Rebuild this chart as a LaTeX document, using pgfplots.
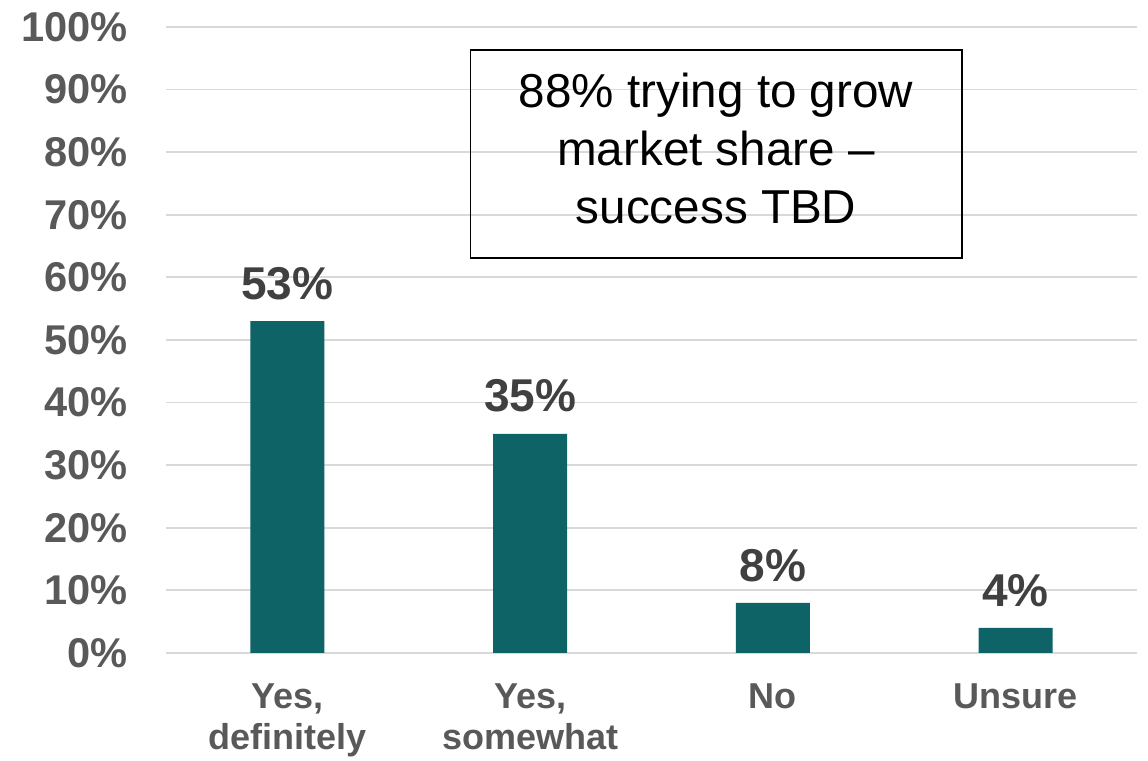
\documentclass[border=0pt]{standalone}
\usepackage{pgfplots}
\pgfplotsset{compat=1.18}
\usepackage{fontspec}
\setmainfont{Liberation Sans}
\definecolor{barc}{HTML}{0D6366}
\definecolor{tickc}{HTML}{595959}
\definecolor{lblc}{HTML}{404040}
\definecolor{gridc}{HTML}{D9D9D9}
\begin{document}
\begin{tikzpicture}
\path[use as bounding box] (0,0) rectangle (574pt,380.5pt);
\begin{axis}[
  at={(83pt,54pt)}, anchor=south west,
  scale only axis, width=485.5pt, height=313pt,
  ybar, bar width=37pt,
  xmin=-0.5, xmax=3.5, ymin=0, ymax=100,
  axis line style={draw=none},
  major tick length=0pt,
  xtick=data,
  xticklabels={{Yes,\\definitely},{Yes,\\somewhat},No,Unsure},
  xticklabel style={anchor=north, inner sep=0pt, yshift=-15pt, align=center,
    font=\fontsize{18}{20.5}\selectfont\bfseries, text=tickc},
  ytick={0,10,...,100},
  yticklabels={0\%,10\%,20\%,30\%,40\%,50\%,60\%,70\%,80\%,90\%,100\%},
  yticklabel style={anchor=east, inner sep=0pt, xshift=-19pt,
    font=\fontsize{20.8}{24}\selectfont\bfseries, text=tickc},
  ymajorgrids, grid style={gridc, line width=0.9pt},
  /pgf/number format/assume math mode=true,
  nodes near coords={\pgfmathprintnumber{\pgfplotspointmeta}\%},
  nodes near coords style={anchor=south, inner sep=0pt, yshift=10.5pt,
    font=\fontsize{23}{26}\selectfont\bfseries, text=lblc},
  clip=false,
]
\addplot[fill=barc, draw=none] coordinates {(0,53) (1,35) (2,8) (3,4)};
\draw[black, line width=0.8pt] (axis cs:0.755,63.1) rectangle (axis cs:2.778,96.3);
\node[align=center, inner sep=0pt, font=\fontsize{23.8}{29.2}\selectfont] at (axis cs:1.766,80.6)
  {88\% trying to grow\\market share –\\success TBD};
\end{axis}
\end{tikzpicture}
\end{document}
